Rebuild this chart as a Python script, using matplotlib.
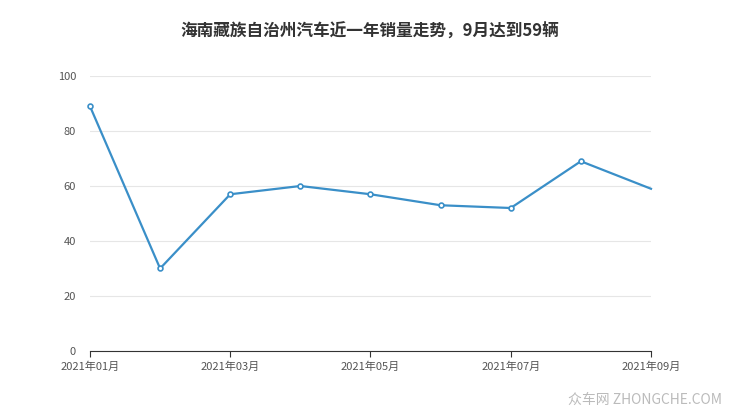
import matplotlib.pyplot as plt

plt.rcParams['font.family'] = ['Noto Sans CJK SC', 'DejaVu Sans']

months = ['2021年01月', '2021年02月', '2021年03月', '2021年04月', '2021年05月',
          '2021年06月', '2021年07月', '2021年08月', '2021年09月']
sales = [89, 30, 57, 60, 57, 53, 52, 69, 59]

fig = plt.figure(figsize=(7.4, 4.17), dpi=100)
ax = fig.add_axes([0.1216, 0.1583, 0.7581, 0.6594])

x = list(range(len(months)))
ax.plot(x, sales, color='#3a8fc8', linewidth=1.6, marker='o', markersize=3.5,
        markerfacecolor='white', markeredgecolor='#3a8fc8', markeredgewidth=1.2,
        markevery=list(range(len(months) - 1)), clip_on=False)

ax.set_xlim(0, len(months) - 1)
ax.set_ylim(0, 100)
ax.set_yticks([0, 20, 40, 60, 80, 100])
ax.set_xticks(x[::2])
ax.set_xticklabels(months[::2])
ax.grid(axis='y', color='#e6e6e6', linewidth=0.8)
ax.set_axisbelow(True)
for s in ['top', 'right', 'left']:
    ax.spines[s].set_visible(False)
ax.spines['bottom'].set_color('#333333')
ax.tick_params(axis='y', length=0, labelsize=8, colors='#555555', pad=10)
ax.tick_params(axis='x', length=4, labelsize=8, colors='#555555', color='#333333')

fig.text(0.5, 0.923, '海南藏族自治州汽车近一年销量走势，9月达到59辆', ha='center', va='center',
         fontsize=12, fontweight='bold', color='#333333')
fig.text(0.975, 0.04, '众车网 ZHONGCHE.COM', ha='right', va='center',
         fontsize=10, color='#bbbbbb')

fig.savefig('out.png', dpi=100)
